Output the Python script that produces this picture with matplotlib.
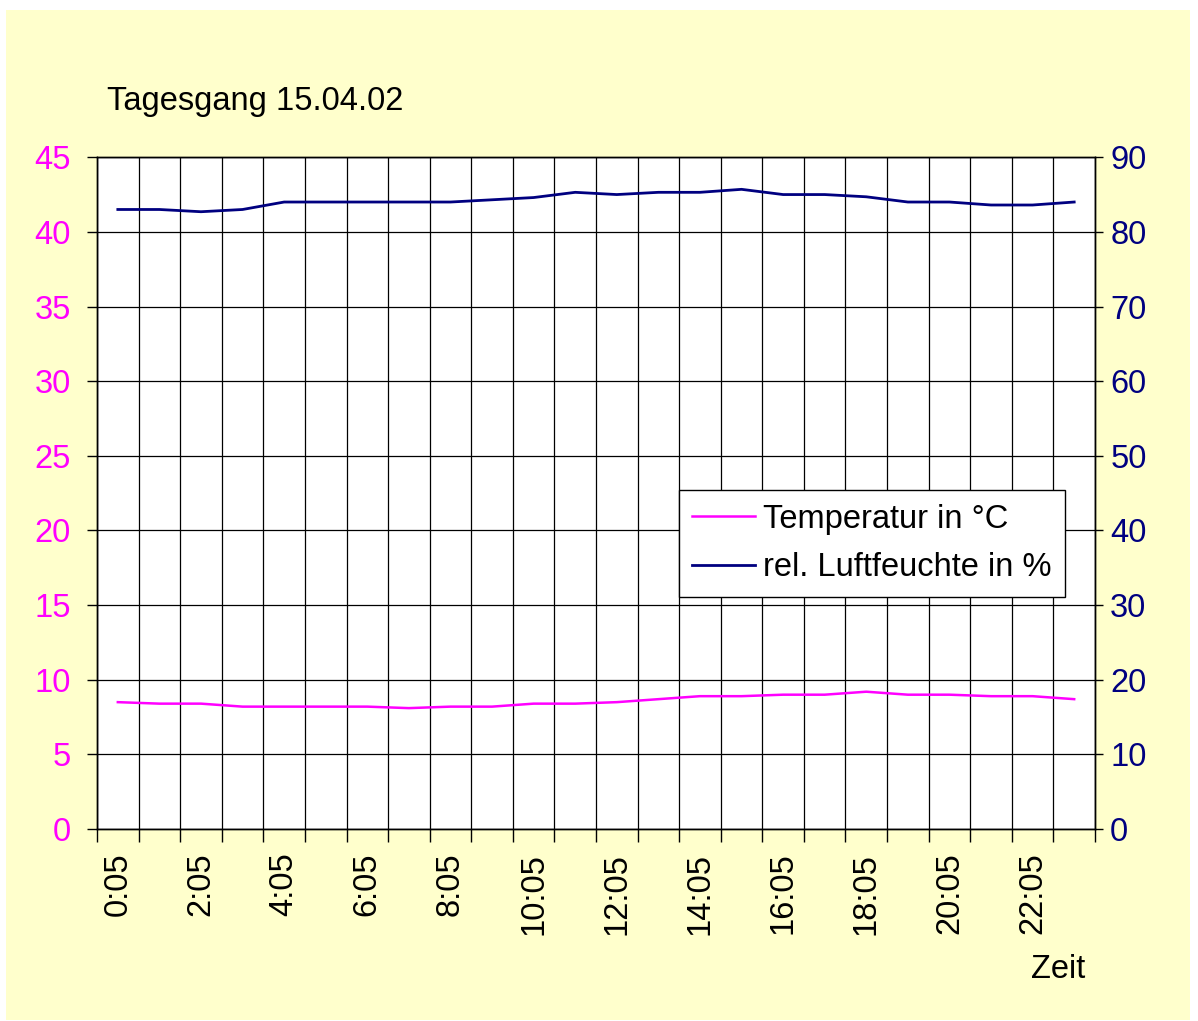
import numpy as np
import matplotlib.pyplot as plt
from matplotlib.patches import Rectangle
from matplotlib.ticker import FixedLocator, NullFormatter

plt.rcParams['font.family'] = ['Liberation Sans', 'DejaVu Sans']

# data
zeit = ['%d:05' % h for h in range(24)]
temperatur = [8.5, 8.4, 8.4, 8.2, 8.2, 8.2, 8.2, 8.1, 8.2, 8.2, 8.4, 8.4,
              8.5, 8.7, 8.9, 8.9, 9.0, 9.0, 9.2, 9.0, 9.0, 8.9, 8.9, 8.7]
feuchte = [83.0, 83.0, 82.7, 83.0, 84.0, 84.0, 84.0, 84.0, 84.0, 84.3, 84.6, 85.3,
           85.0, 85.3, 85.3, 85.7, 85.0, 85.0, 84.7, 84.0, 84.0, 83.6, 83.6, 84.0]
temp_ticks = [0, 5, 10, 15, 20, 25, 30, 35, 40, 45]
feuchte_ticks = [0, 10, 20, 30, 40, 50, 60, 70, 80, 90]

magenta = '#FF00FF'
navy = '#000080'
fs = 23.5

fig = plt.figure(figsize=(11.98, 10.21), dpi=100, facecolor='white')
# yellow chart area
fig.patches.append(Rectangle((0.005, 0.001), 0.988, 0.989, transform=fig.transFigure,
                             facecolor='#FFFFCC', edgecolor='none', zorder=-10))

ax1 = fig.add_axes([0.081, 0.188, 0.833, 0.658])
ax1.set_facecolor('white')
ax2 = ax1.twinx()

x = np.arange(len(zeit))
l1, = ax1.plot(x, temperatur, color=magenta, lw=1.8, label='Temperatur in °C')
l2, = ax2.plot(x, feuchte, color=navy, lw=2.0, label='rel. Luftfeuchte in %')

ax1.set_xlim(-0.5, len(zeit) - 0.5)
ax1.set_ylim(0, 45)
ax2.set_ylim(0, 90)

# category boundaries: ticks + vertical grid
ax1.xaxis.set_major_locator(FixedLocator(np.arange(-0.5, len(zeit), 1.0)))
ax1.xaxis.set_major_formatter(NullFormatter())
ax1.xaxis.set_minor_locator(FixedLocator(x[::2]))
ax1.set_xticklabels([zeit[i] for i in x[::2]], minor=True, rotation=90, fontsize=fs)
ax1.tick_params(axis='x', which='major', direction='out', length=9, width=1, color='black')
ax1.tick_params(axis='x', which='minor', length=0, pad=17)

ax1.set_yticks(temp_ticks)
ax1.tick_params(axis='y', direction='out', length=7, width=1, labelsize=fs,
                labelcolor=magenta, pad=12)
ax2.set_yticks(feuchte_ticks)
ax2.tick_params(axis='y', direction='out', length=6, width=1, labelsize=fs,
                labelcolor=navy, pad=5)

ax1.grid(True, which='major', color='black', lw=0.9)
ax1.set_axisbelow(True)
for ax in (ax1, ax2):
    for s in ax.spines.values():
        s.set_color('black')
        s.set_linewidth(1)

fig.text(0.089, 0.892, 'Tagesgang 15.04.02', fontsize=fs, ha='left', va='baseline')
fig.text(0.906, 0.042, 'Zeit', fontsize=fs, ha='right', va='baseline')

leg = ax2.legend(handles=[l1, l2], loc='upper right', bbox_to_anchor=(0.97, 0.504),
                 fontsize=fs, fancybox=False, framealpha=1, edgecolor='black',
                 handlelength=1.95, handletextpad=0.25, borderpad=0.4,
                 labelspacing=0.55, borderaxespad=0)
leg.get_frame().set_linewidth(1)

fig.savefig('out.png', dpi=100, facecolor=fig.get_facecolor())
